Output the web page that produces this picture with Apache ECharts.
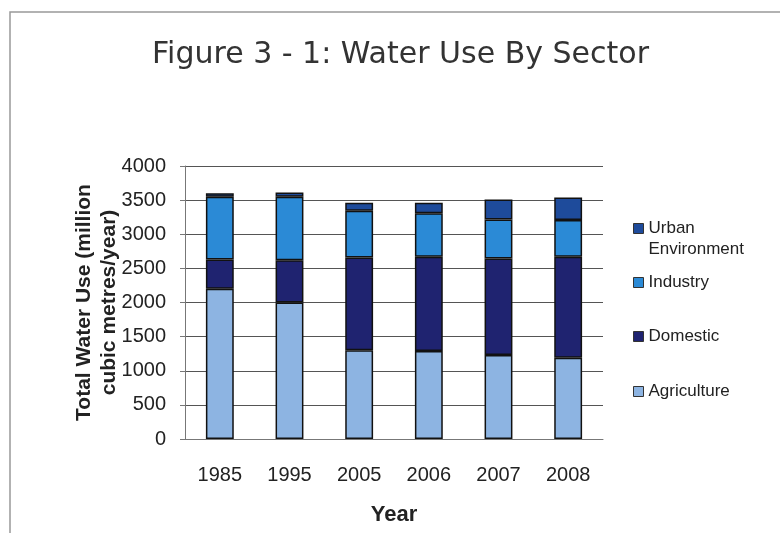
<!DOCTYPE html>
<html>
<head>
<meta charset="utf-8">
<script src="https://cdn.jsdelivr.net/npm/echarts@6/dist/echarts.min.js"></script>
<style>
  html, body { margin: 0; padding: 0; background: #fff; }
  #chart { width: 780px; height: 533px; }
</style>
</head>
<body>
<div id="chart"></div>
<script>
const years = ['1985', '1995', '2005', '2006', '2007', '2008']
const agriculture = [2200, 2000, 1300, 1290, 1230, 1190]
const domestic = [430, 620, 1360, 1380, 1415, 1480]
const industry = [920, 930, 685, 636, 572, 538]
const urban = [50, 60, 117, 155, 293, 332]

const colors = {
  agriculture: '#8db4e2',
  domestic: '#1f2370',
  industry: '#2b8ad6',
  urban: '#1e4b9b',
}

const barStyle = (color) => ({ color, borderColor: '#111', borderWidth: 1.5 })

const makeSeries = (name, data, color) => ({
  name,
  type: 'bar',
  stack: 'total',
  barWidth: '40%',
  data,
  itemStyle: barStyle(color),
})

const legendText = { fontFamily: 'Liberation Sans', fontSize: 17, color: '#222', lineHeight: 21 }

const makeLegend = (name, top, extra = {}) => ({
  data: [name],
  left: 628,
  top,
  orient: 'vertical',
  itemWidth: 10,
  itemHeight: 10,
  itemGap: 0,
  icon: 'rect',
  itemStyle: { borderColor: '#333', borderWidth: 1 },
  textStyle: { ...legendText },
  formatter: (n) => n.replace(' ', '\n'),
  selectedMode: false,
  ...extra,
})

const chart = echarts.init(document.getElementById('chart'), null, { renderer: 'canvas' })
chart.setOption({
  animation: false,
  backgroundColor: '#fff',
  graphic: [{
    type: 'rect',
    shape: { x: 10, y: 12, width: 800, height: 560 },
    style: { fill: 'none', stroke: '#999', lineWidth: 1.5 },
    silent: true,
  }],
  title: {
    text: 'Figure 3 - 1: Water Use By Sector',
    left: 147,
    top: 35,
    textStyle: { fontFamily: 'DejaVu Sans', fontWeight: 'normal', fontSize: 30, color: '#333' },
  },
  legend: [
    // square sits at the top of a taller icon box so it lines up with the first text line
    makeLegend('Urban Environment', 213, { icon: 'path://M0 0h10v10h-10z M0 31', itemHeight: 31 }),
    makeLegend('Industry', 267),
    makeLegend('Domestic', 321),
    makeLegend('Agriculture', 376),
  ],
  grid: { left: 185, right: 177, top: 166, bottom: 94 },
  xAxis: {
    type: 'category',
    data: years,
    name: 'Year',
    nameLocation: 'middle',
    nameGap: 65,
    nameTextStyle: { fontFamily: 'Liberation Sans', fontWeight: 'bold', fontSize: 22, color: '#222' },
    axisLine: { lineStyle: { color: '#777', width: 1 } },
    axisTick: { alignWithLabel: false, length: 5, lineStyle: { color: '#777' } },
    axisLabel: { fontFamily: 'Liberation Sans', fontSize: 20, color: '#222', margin: 26 },
  },
  yAxis: {
    type: 'value',
    min: 0,
    max: 4000,
    interval: 500,
    name: 'Total Water Use (million\ncubic metres/year)',
    nameLocation: 'middle',
    nameGap: 63,
    nameMoveOverlap: false,
    nameTextStyle: { fontFamily: 'Liberation Sans', fontWeight: 'bold', fontSize: 21, color: '#222', lineHeight: 25 },
    axisLine: { show: true, lineStyle: { color: '#777', width: 1 } },
    axisTick: { show: true, length: 5, lineStyle: { color: '#777' } },
    axisLabel: { fontFamily: 'Liberation Sans', fontSize: 20, color: '#222', margin: 19, formatter: (v) => String(v) },
    splitLine: { lineStyle: { color: '#555', width: 1 } },
  },
  series: [
    makeSeries('Agriculture', agriculture, colors.agriculture),
    makeSeries('Domestic', domestic, colors.domestic),
    makeSeries('Industry', industry, colors.industry),
    makeSeries('Urban Environment', urban, colors.urban),
  ],
})
</script>
</body>
</html>
